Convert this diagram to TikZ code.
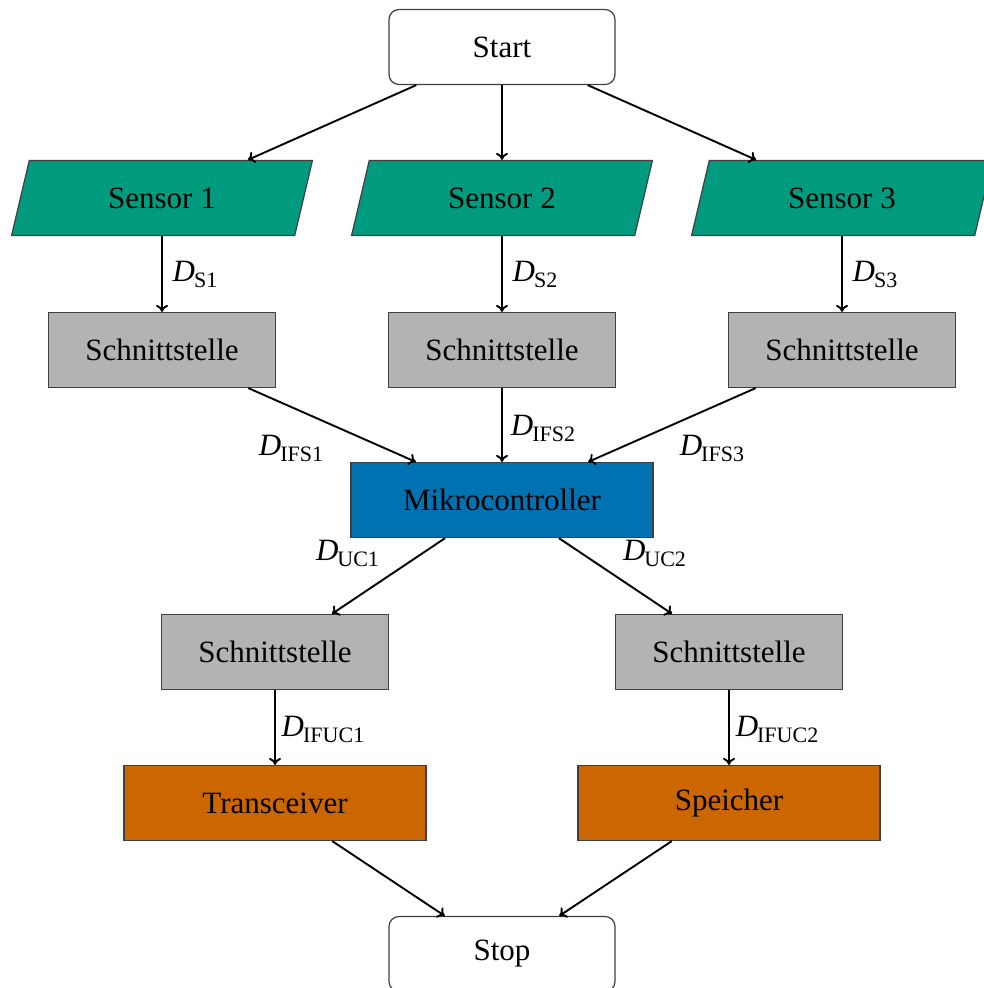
\documentclass[tikz,border=0pt]{standalone}
\usepackage{fontspec}
\setmainfont{Liberation Serif}
\usetikzlibrary{shapes.geometric, arrows.meta}

\definecolor{sensorgreen}{HTML}{009B7E}
\definecolor{ifgray}{HTML}{B3B3B3}
\definecolor{mcublue}{HTML}{0072B2}
\definecolor{perorange}{HTML}{CC6600}

% data-flow label: italic D with an upright subscript
\newcommand\dlab[1]{{\itshape D}\kern-1pt\raisebox{-6pt}{\fontsize{22}{24}\selectfont #1}}

\tikzset{
  every node/.style={font=\fontsize{31}{36}\selectfont},
  base/.style={draw=black!75, line width=1.2pt, minimum height=75pt, inner sep=0pt},
  term/.style={base, rounded corners=10pt, minimum width=226pt, fill=white},
  sensor/.style={base, trapezium, trapezium left angle=71, trapezium right angle=109,
                 trapezium stretches=true, minimum width=301pt, fill=sensorgreen},
  iface/.style={base, minimum width=227pt, fill=ifgray},
  mcu/.style={base, minimum width=302pt, fill=mcublue},
  periph/.style={base, minimum width=302pt, fill=perorange},
  flow/.style={-{To[length=7pt, width=12pt]}, line width=1.9pt},
  dl/.style={inner sep=0pt, pos=0.5}
}

\begin{document}
\begin{tikzpicture}[x=1pt, y=-1pt]
  \useasboundingbox (0,0) rectangle (984,988);

  % nodes
  \node[term]   (start) at (502,47)  {Start};
  \node[sensor] (s1)    at (162,198) {Sensor 1};
  \node[sensor] (s2)    at (502,198) {Sensor 2};
  \node[sensor] (s3)    at (842,198) {Sensor 3};
  \node[iface]  (i1)    at (162,350) {Schnittstelle};
  \node[iface]  (i2)    at (502,350) {Schnittstelle};
  \node[iface]  (i3)    at (842,350) {Schnittstelle};
  \node[mcu]    (mc)    at (502,500) {Mikrocontroller};
  \node[iface]  (i4)    at (275,652) {Schnittstelle};
  \node[iface]  (i5)    at (729,652) {Schnittstelle};
  \node[periph] (tr)    at (275,803) {Transceiver};
  \node[periph] (sp)    at (729,803) {Speicher};
  \node[term]   (stop)  at (502,954) {Stop};

  % connectors
  \draw[flow] (start) -- (s1);
  \draw[flow] (start) -- (s2);
  \draw[flow] (start) -- (s3);
  \draw[flow] (s1) -- node[dl, xshift=33pt]  {\dlab{S1}} (i1);
  \draw[flow] (s2) -- node[dl, xshift=33pt]  {\dlab{S2}} (i2);
  \draw[flow] (s3) -- node[dl, xshift=33pt]  {\dlab{S3}} (i3);
  \draw[flow] (i1) -- node[dl, xshift=-41pt, yshift=-23pt] {\dlab{IFS1}} (mc);
  \draw[flow] (i2) -- node[dl, xshift=41pt, yshift=-3pt]   {\dlab{IFS2}} (mc);
  \draw[flow] (i3) -- node[dl, xshift=40pt, yshift=-23pt]  {\dlab{IFS3}} (mc);
  \draw[flow] (mc) -- node[dl, xshift=-41pt, yshift=23pt]  {\dlab{UC1}} (i4);
  \draw[flow] (mc) -- node[dl, xshift=39pt, yshift=23pt]   {\dlab{UC2}} (i5);
  \draw[flow] (i4) -- node[dl, xshift=48pt, yshift=-2pt]   {\dlab{IFUC1}} (tr);
  \draw[flow] (i5) -- node[dl, xshift=48pt, yshift=-2pt]   {\dlab{IFUC2}} (sp);
  \draw[flow] (tr) -- (stop);
  \draw[flow] (sp) -- (stop);
\end{tikzpicture}
\end{document}
